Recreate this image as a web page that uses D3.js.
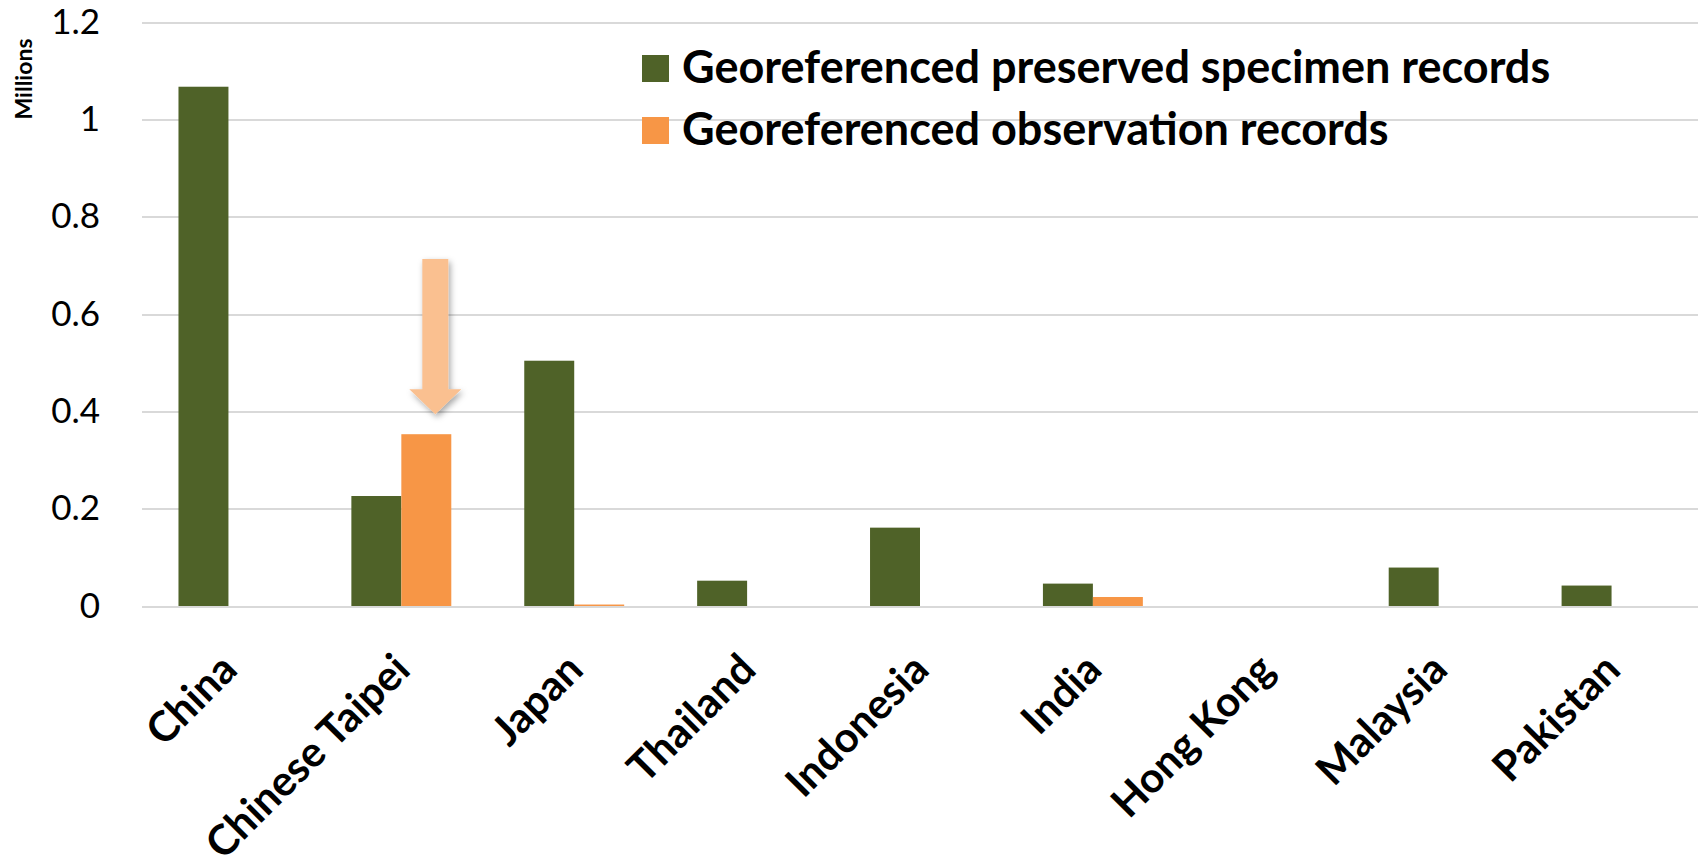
<!DOCTYPE html>
<meta charset="utf-8">
<style>
body { margin: 0; background-color: #fff; }
.axis text { font-family: Lato, "Open Sans", sans-serif; fill: #000; }
.grid line { stroke: #D9D9D9; stroke-width: 2px; shape-rendering: crispEdges; }
.grid path { display: none; }
.legend text { font-family: Lato, "Open Sans", sans-serif; font-weight: bold; font-size: 45px; }
</style>
<body>
<script src="https://d3js.org/d3.v7.min.js"></script>
<script>
// values in millions
var countries = ["China", "Chinese Taipei", "Japan", "Thailand", "Indonesia", "India", "Hong Kong", "Malaysia", "Pakistan"];
var specimen = [1.067, 0.226, 0.504, 0.052, 0.161, 0.046, 0, 0.079, 0.042];
var observation = [0, 0.353, 0.003, 0, 0, 0.0185, 0, 0, 0];
var seriesNames = ["Georeferenced preserved specimen records", "Georeferenced observation records"];
var colors = ["#4F6228", "#F79646"];
var yTicks = [0, 0.2, 0.4, 0.6, 0.8, 1, 1.2];

var svg = d3.select("body").append("svg")
    .attr("width", 1701)
    .attr("height", 868),
    margin = {top: 22, right: 3, bottom: 262, left: 142},
    width = +svg.attr("width") - margin.left - margin.right,
    height = +svg.attr("height") - margin.top - margin.bottom;

var g = svg.append("g")
    .attr("transform", "translate(" + margin.left + "," + margin.top + ")");

var x0 = d3.scaleBand().domain(countries).range([0, width])
    .paddingInner(0.422).paddingOuter(0.211);
var x1 = d3.scaleBand().domain([0, 1]).range([0, x0.bandwidth()]);
var y = d3.scaleLinear().domain([0, 1.2]).range([height, 0]);

// gridlines
g.append("g")
    .attr("class", "grid")
    .call(d3.axisLeft(y).tickValues(yTicks).tickSize(-width).tickFormat(""));

// y labels
g.append("g")
    .attr("class", "axis")
    .call(d3.axisLeft(y).tickValues(yTicks).tickSize(0).tickPadding(42).tickFormat(function(d) { return d; }))
    .call(function(a) { a.select(".domain").remove(); })
    .selectAll("text")
      .style("font-size", "35px");

svg.append("text")
    .attr("transform", "translate(24,79) rotate(-90)")
    .attr("text-anchor", "middle")
    .attr("dy", "0.35em")
    .style("font-family", "Lato, 'Open Sans', sans-serif")
    .style("font-weight", "bold")
    .style("font-size", "23px")
    .text("Millions");

// bars
var data = countries.map(function(c, i) { return {c: c, v: [specimen[i], observation[i]]}; });

var groups = g.selectAll(".country")
    .data(data)
  .enter().append("g")
    .attr("transform", function(d) { return "translate(" + x0(d.c) + ",0)"; });

groups.selectAll("rect")
    .data(function(d) { return d.v; })
  .enter().append("rect")
    .attr("x", function(d, i) { return x1(i); })
    .attr("width", x1.bandwidth())
    .attr("y", function(d) { return y(d); })
    .attr("height", function(d) { return height - y(d); })
    .attr("fill", function(d, i) { return colors[i]; });

// x labels
g.append("g")
    .attr("class", "axis")
    .attr("transform", "translate(0," + height + ")")
    .call(d3.axisBottom(x0).tickSize(0).tickPadding(0))
    .call(function(a) { a.select(".domain").remove(); })
    .selectAll("text")
      .style("font-size", "42px")
      .style("font-weight", "bold")
      .style("text-anchor", "end")
      .attr("y", 0)
      .attr("dy", 0)
      .attr("transform", "translate(11,66) rotate(-45)");

// arrow pointing at Chinese Taipei observation bar
var defs = svg.append("defs");
var f = defs.append("filter").attr("id", "shadow").attr("x", "-50%").attr("y", "-20%").attr("width", "200%").attr("height", "140%");
f.append("feDropShadow").attr("dx", 2).attr("dy", 3).attr("stdDeviation", 3).attr("flood-color", "#000").attr("flood-opacity", 0.35);

var ax = x0("Chinese Taipei") + x1(1) + x1.bandwidth() / 2 + 9,
    tipY = y(observation[1]) - 20,
    topY = y(0.713),
    headY = tipY - 25;
g.append("path")
    .attr("d", "M" + (ax - 13) + "," + topY + "H" + (ax + 13) + "V" + headY + "H" + (ax + 26) +
      "L" + ax + "," + tipY + "L" + (ax - 26) + "," + headY + "H" + (ax - 13) + "Z")
    .attr("fill", "#FAC090")
    .attr("filter", "url(#shadow)");

// legend
var legend = svg.append("g").attr("class", "legend")
    .attr("transform", "translate(642,55)");
var item = legend.selectAll("g")
    .data(seriesNames)
  .enter().append("g")
    .attr("transform", function(d, i) { return "translate(0," + (i * 62) + ")"; });
item.append("rect")
    .attr("width", 27)
    .attr("height", 27)
    .attr("fill", function(d, i) { return colors[i]; });
item.append("text")
    .attr("x", 40)
    .attr("y", 28)
    .text(function(d) { return d; });
</script>
</body>
